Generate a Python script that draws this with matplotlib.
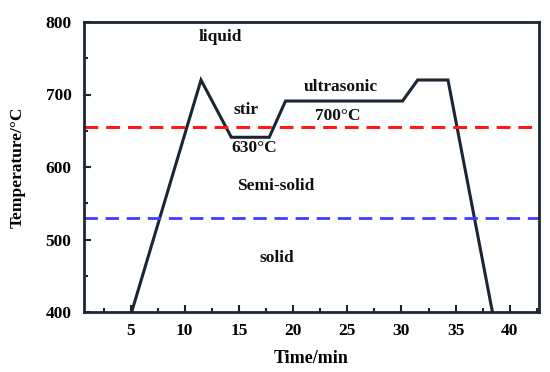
import numpy as np
import matplotlib
matplotlib.use('Agg')
import matplotlib.pyplot as plt
from matplotlib.ticker import MultipleLocator

# process curve (time in min, temperature in C)
time_min = [5.1, 11.5, 14.3, 17.8, 19.3, 30.1, 31.5, 34.3, 38.4]
temp_c = [400, 720, 641, 641, 691, 691, 720, 720, 400]

liquidus = 655
solidus = 530

x_ticks = [5, 10, 15, 20, 25, 30, 35, 40]
y_ticks = [400, 500, 600, 700, 800]

# annotations: (text, x, y)
labels = [
    ('liquid', 13.3, 779),
    ('stir', 15.7, 679),
    ('ultrasonic', 24.4, 711),
    ('700\u00b0C', 24.1, 670),
    ('630\u00b0C', 16.4, 626),
    ('Semi-solid', 18.4, 574),
    ('solid', 18.5, 474),
]

plt.rcParams['font.family'] = ['Liberation Serif', 'DejaVu Serif']
plt.rcParams['font.weight'] = 'bold'

dark = '#1c2633'

fig = plt.figure(figsize=(5.5, 3.72), dpi=100)
ax = fig.add_axes([84/550, 1 - 312/372, (539 - 84)/550, (312 - 22)/372])

ax.plot(time_min, temp_c, color=dark, lw=2.2, solid_joinstyle='miter')
ax.axhline(liquidus, color='#ff1a1a', lw=2.2, ls=(0, (4.5, 2.6)))
ax.axhline(solidus, color='#3d3dff', lw=2.0, ls=(0, (4.8, 2.8)))

for txt, x, y in labels:
    ax.text(x, y, txt, ha='center', va='center', fontsize=12.5,
            fontweight='bold', color='#111111')

ax.set_xlim(0.7, 42.7)
ax.set_ylim(400, 800)
ax.set_xticks(x_ticks)
ax.set_yticks(y_ticks)
ax.xaxis.set_minor_locator(MultipleLocator(2.5))
ax.yaxis.set_minor_locator(MultipleLocator(50))
ax.tick_params(which='both', direction='in', color=dark, width=1.5,
               labelsize=12.5, top=False, right=False)
ax.tick_params(which='major', length=5)
ax.tick_params(which='minor', length=3)
ax.tick_params(axis='x', pad=8)
ax.tick_params(axis='y', pad=9)
for lab in ax.get_xticklabels() + ax.get_yticklabels():
    lab.set_fontweight('bold')

for s in ax.spines.values():
    s.set_color(dark)
    s.set_linewidth(2)

ax.set_xlabel('Time/min', fontsize=13, fontweight='bold', labelpad=8)
ax.set_ylabel('Temperature/\u00b0C', fontsize=12.5, fontweight='bold', labelpad=14)

fig.savefig('out.png', dpi=100)
